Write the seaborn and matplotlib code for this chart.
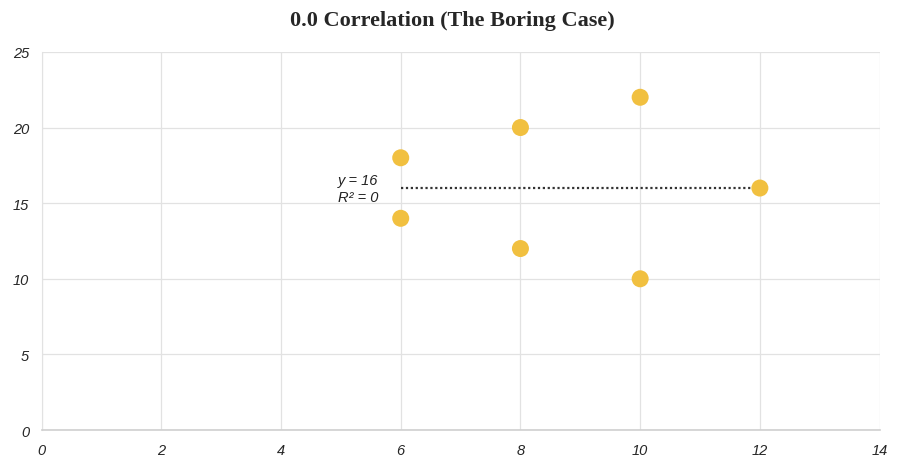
import pandas as pd
import matplotlib.pyplot as plt
import seaborn as sns

# Data
x_vals = [6, 6, 8, 8, 10, 10, 12]
y_vals = [18, 14, 20, 12, 22, 10, 16]
trend_x = [6, 12]
trend_y = [16, 16]
x_ticks = [0, 2, 4, 6, 8, 10, 12, 14]
y_ticks = [0, 5, 10, 15, 20, 25]

df = pd.DataFrame({"x": x_vals, "y": y_vals})

sns.set_style("white")
plt.rcParams['font.family'] = ['Liberation Sans', 'DejaVu Sans']

fig = plt.figure(figsize=(9.04, 4.64), dpi=100)
ax = fig.add_axes([0.046, 0.071, 0.927, 0.815])

ax.plot(trend_x, trend_y, linestyle=(0, (1, 1.2)), color="#333333", linewidth=1.6, zorder=2)
sns.scatterplot(data=df, x="x", y="y", ax=ax, color="#F1C040", s=150,
                edgecolor="none", zorder=3)

ax.text(5.63, 15.95, "y = 16\nR² = 0", fontsize=10.5, style="italic", color="#222222",
        ha="right", va="center", linespacing=1.25)

ax.set_xlim(0, 14)
ax.set_ylim(0, 25)
ax.set_xticks(x_ticks)
ax.set_yticks(y_ticks)
ax.set_xticklabels([str(v) for v in x_ticks], style="italic", fontsize=10.5)
ax.set_yticklabels([str(v) for v in y_ticks], style="italic", fontsize=10.5)
ax.tick_params(length=0, pad=9)
ax.grid(True, color="#E2E2E2", linewidth=0.9)
ax.set_axisbelow(True)
for side in ["top", "right"]:
    ax.spines[side].set_visible(False)
ax.spines["left"].set_color("#E2E2E2")
ax.spines["bottom"].set_color("#CFCFCF")
ax.spines["bottom"].set_linewidth(1.2)
ax.set_xlabel("")
ax.set_ylabel("")

fig.text(0.5, 0.955, "0.0 Correlation (The Boring Case)", ha="center", va="center",
         fontsize=16, fontweight="bold", family=["Liberation Serif", "DejaVu Serif"])

fig.savefig("out.png", dpi=100, facecolor="white")
